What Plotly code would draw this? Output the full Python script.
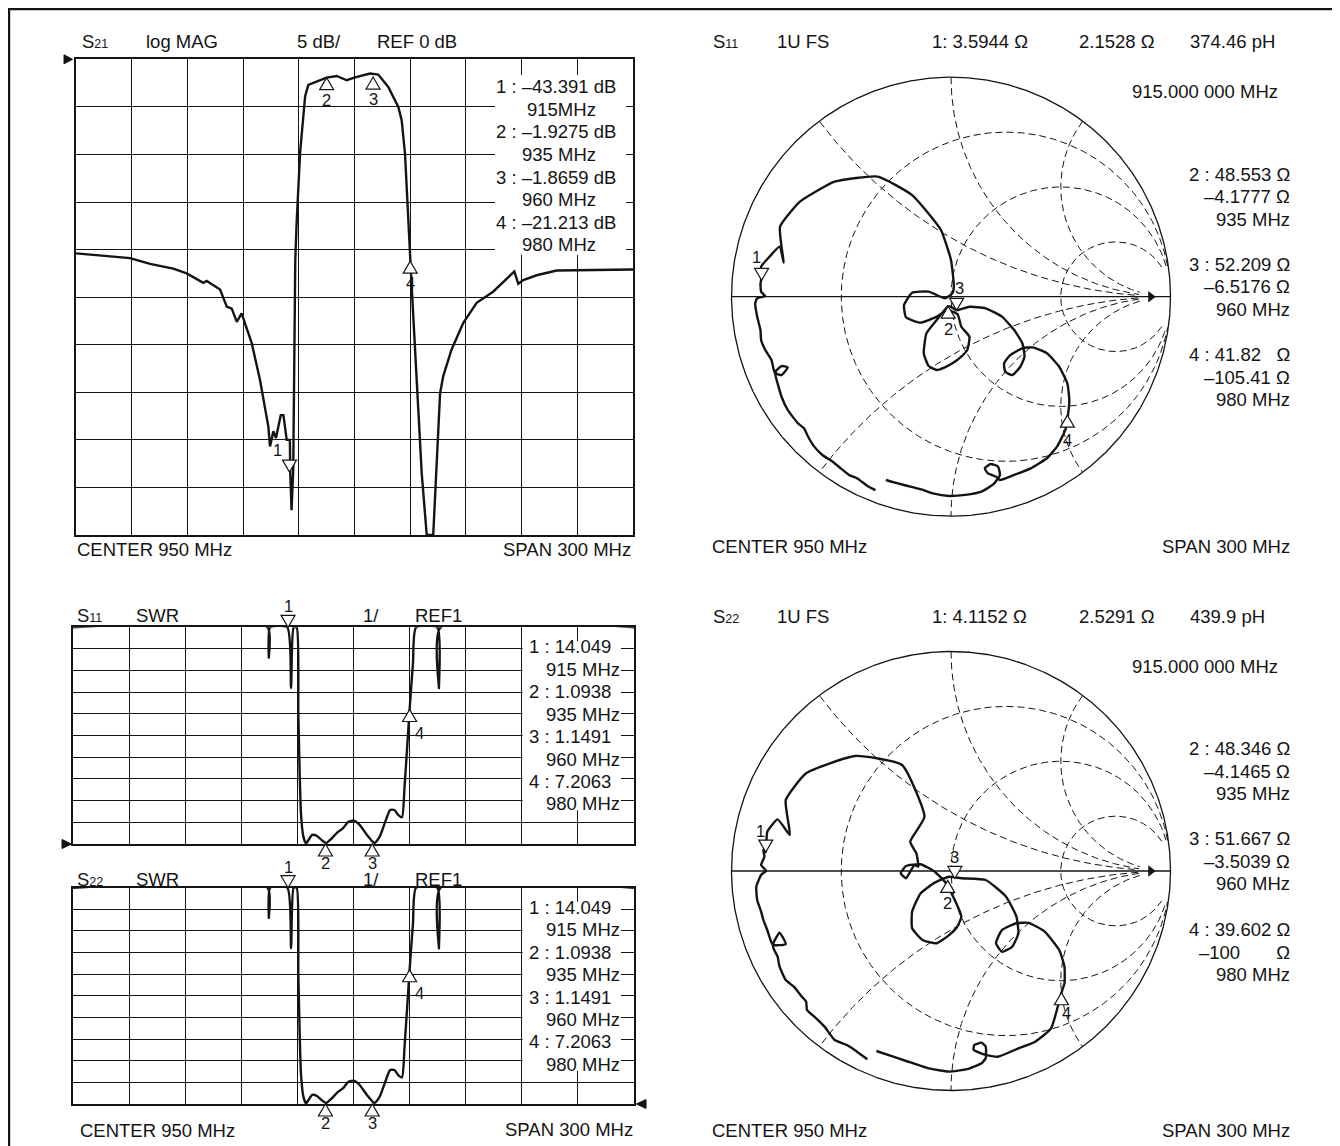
import numpy as np
import plotly.graph_objects as go

# Page coordinates below are measured on the 1340x1146 screenshot; the page body
# keeps an 8 px margin, so the figure itself is 8 px smaller and shifted back.
PAGE_W, PAGE_H, BODY = 1340, 1146, 8
W, H = PAGE_W - BODY, PAGE_H - BODY
FONT = "Liberation Sans, Arial, Helvetica, sans-serif"
INK = "#141414"
TXT = 18.5

# ---------------------------------------------------------------- data
MARKER_FREQ_MHZ = [915, 935, 960, 980]

# S21 log magnitude (MHz, dB)
S21_FREQ_MHZ = [
    800, 812.9, 829.1, 839.9, 852.4, 859.6, 868.6, 870.4,
    877.6, 881.2, 883.9, 886.6, 889.2, 894.6, 899.1, 903.6,
    904.5, 906.3, 907.7, 909.0, 910.3, 911.7, 913.5, 915.2,
    915.4, 916.1, 917.0, 918.1, 918.9, 920.7, 923.4, 925.1,
    929.6, 935.0, 940.4, 945.8, 950.3, 958.4, 962.8, 968.2,
    973.6, 975.4, 977.2, 978.4, 979.9, 980.8, 986.2, 988.9,
    992.4, 996.1, 997.8, 1002.3, 1008.6, 1015.8, 1024.8, 1034.7,
    1036.1, 1038.2, 1040.9, 1048.1, 1058.9, 1100,
]
S21_DB = [
    -20.4, -20.6, -20.9, -21.5, -22.0, -22.5, -23.5, -23.3,
    -24.2, -26.0, -26.2, -27.6, -26.7, -29.8, -33.7, -38.6,
    -40.7, -39.1, -39.8, -38.6, -37.4, -37.4, -40.0, -40.0,
    -43.4, -47.4, -43.2, -21.1, -16.9, -9.8, -3.9, -2.7,
    -2.35, -1.93, -1.75, -2.2, -1.9, -1.5, -1.6, -2.9,
    -5.0, -6.4, -9.9, -15.1, -21.2, -23.9, -43.5, -50.0,
    -50.0, -35.1, -33.3, -30.5, -27.7, -25.6, -24.4, -22.5,
    -22.3, -23.6, -23.2, -22.7, -22.2, -22.1,
]
S21_MARKER_DB = [-43.391, -1.9275, -1.8659, -21.213]

# SWR (same sweep shown for S11 and S22), clipped by the display at 11
SWR_FREQ_MHZ = [
    800, 904.0, 904.7, 905.4, 914.6, 916.6, 918.0, 919.6,
    920.5, 921.9, 923.2, 924.6, 925.9, 927.9, 930.5, 933.0,
    935.4, 938.4, 941.4, 944.3, 947.3, 950.3, 953.3, 957.2,
    961.2, 964.0, 967.0, 969.6, 971.9, 973.9, 975.9, 977.3,
    980.0, 981.8, 983.5, 994.8, 995.7, 996.6, 1100,
]
SWR_VALUES = [
    11, 11, 9.6, 11, 11, 8.2, 11, 11,
    7.0, 2.42, 1.34, 1.03, 1.18, 1.42, 1.37, 1.18,
    1.05, 1.26, 1.54, 1.72, 2.03, 2.08, 1.88, 1.42,
    1.05, 1.34, 2.03, 2.57, 2.57, 2.34, 2.23, 3.64,
    7.2, 9.34, 11, 11, 8.2, 11, 11,
]
SWR_MARKERS = [14.049, 1.0938, 1.1491, 7.2063]

# reflection coefficient traces
S11_GAMMA_RE = [
    -0.344, -0.381, -0.428, -0.465, -0.502, -0.539, -0.586, -0.623,
    -0.651, -0.669, -0.697, -0.744, -0.772, -0.790, -0.800, -0.800,
    -0.772, -0.744, -0.772, -0.803, -0.818, -0.846, -0.865, -0.868,
    -0.883, -0.892, -0.883, -0.846, -0.865, -0.868, -0.865, -0.865,
    -0.827, -0.781, -0.762, -0.779, -0.688, -0.530, -0.334, -0.177,
    -0.046, 0.000, 0.013, 0.006, -0.028, -0.102, -0.177, -0.214,
    -0.205, -0.139, -0.065, -0.019, 0.030, 0.047, 0.084, 0.074,
    0.047, 0.010, -0.028, -0.065, -0.102, -0.124, -0.112, -0.065,
    -0.013, 0.000, 0.026, 0.084, 0.158, 0.232, 0.288, 0.325,
    0.335, 0.316, 0.279, 0.247, 0.242, 0.270, 0.325, 0.372,
    0.437, 0.493, 0.530, 0.539, 0.533, 0.521, 0.483, 0.437,
    0.363, 0.288, 0.223, 0.205, 0.168, 0.154, 0.180, 0.214,
    0.223, 0.195, 0.139, 0.065, -0.009, -0.083, -0.139, -0.214,
    -0.270, -0.297,
]
S11_GAMMA_IM = [
    -0.881, -0.862, -0.827, -0.812, -0.782, -0.752, -0.721, -0.683,
    -0.638, -0.600, -0.577, -0.516, -0.456, -0.395, -0.357, -0.342,
    -0.316, -0.322, -0.357, -0.346, -0.288, -0.243, -0.197, -0.152,
    -0.091, -0.030, -0.007, 0.003, 0.023, 0.060, 0.075, 0.137,
    0.182, 0.228, 0.155, 0.319, 0.433, 0.524, 0.547, 0.463,
    0.304, 0.167, 0.046, 0.015, -0.007, 0.023, 0.018, -0.038,
    -0.094, -0.118, -0.091, -0.061, -0.080, -0.137, -0.182, -0.243,
    -0.273, -0.301, -0.322, -0.334, -0.316, -0.258, -0.167, -0.106,
    -0.043, -0.046, -0.062, -0.046, -0.053, -0.091, -0.152, -0.212,
    -0.273, -0.319, -0.357, -0.342, -0.303, -0.266, -0.235, -0.231,
    -0.258, -0.319, -0.395, -0.471, -0.539, -0.607, -0.683, -0.736,
    -0.782, -0.812, -0.835, -0.820, -0.805, -0.782, -0.762, -0.774,
    -0.812, -0.853, -0.888, -0.903, -0.908, -0.896, -0.877, -0.858,
    -0.843, -0.835,
]
S11_MARKER_R = [3.5944, 48.553, 52.209, 41.82]
S11_MARKER_X = [2.1528, -4.1777, -6.5176, -105.41]

S22_GAMMA_RE = [
    -0.381, -0.428, -0.474, -0.530, -0.576, -0.614, -0.656, -0.660,
    -0.679, -0.716, -0.753, -0.781, -0.790, -0.809, -0.809, -0.781,
    -0.753, -0.812, -0.837, -0.855, -0.865, -0.883, -0.887, -0.865,
    -0.842, -0.865, -0.850, -0.855, -0.844, -0.837, -0.790, -0.734,
    -0.753, -0.660, -0.437, -0.223, -0.121, -0.186, -0.158, -0.149,
    -0.167, -0.205, -0.229, -0.205, -0.139, -0.074, -0.028, 0.010,
    0.047, 0.028, -0.009, -0.065, -0.130, -0.177, -0.177, -0.139,
    -0.074, -0.009, 0.047, 0.158, 0.251, 0.298, 0.307, 0.279,
    0.232, 0.205, 0.232, 0.298, 0.354, 0.428, 0.493, 0.517,
    0.517, 0.503, 0.456, 0.381, 0.307, 0.214, 0.158, 0.103,
    0.106, 0.139, 0.158, 0.158, 0.139, 0.074, -0.009, -0.102,
    -0.195, -0.270, -0.340,
]
S22_GAMMA_IM = [
    -0.858, -0.823, -0.793, -0.770, -0.709, -0.671, -0.633, -0.595,
    -0.573, -0.527, -0.497, -0.436, -0.390, -0.352, -0.329, -0.281,
    -0.333, -0.336, -0.269, -0.223, -0.185, -0.132, -0.072, -0.018,
    0.001, 0.027, 0.065, 0.096, 0.086, 0.179, 0.235, 0.164,
    0.323, 0.445, 0.524, 0.483, 0.247, 0.133, 0.081, 0.020,
    0.027, -0.033, -0.011, 0.023, 0.031, -0.003, -0.049, -0.117,
    -0.208, -0.254, -0.292, -0.329, -0.314, -0.261, -0.185, -0.102,
    -0.053, -0.026, -0.033, -0.041, -0.117, -0.208, -0.284, -0.345,
    -0.368, -0.329, -0.269, -0.238, -0.236, -0.277, -0.360, -0.436,
    -0.512, -0.555, -0.717, -0.779, -0.808, -0.846, -0.838, -0.815,
    -0.793, -0.782, -0.800, -0.853, -0.876, -0.903, -0.914, -0.899,
    -0.869, -0.843, -0.820,
]
S22_MARKER_R = [4.1152, 48.346, 51.667, 39.602]
S22_MARKER_X = [2.5291, -4.1465, -3.5039, -100.0]

SMITH_R_CIRCLES = [1 / 3, 1, 3]
SMITH_X_ARCS = [0.5, 1, 2]

S21_READOUT = ["1 : –43.391 dB", "915MHz", "2 : –1.9275 dB", "935 MHz",
               "3 : –1.8659 dB", "960 MHz", "4 : –21.213 dB", "980 MHz"]
SWR_READOUT = ["1 : 14.049", "915 MHz", "2 : 1.0938", "935 MHz",
               "3 : 1.1491", "960 MHz", "4 : 7.2063", "980 MHz"]
S11_READOUT = ["2 : 48.553 Ω", "–4.1777 Ω", "935 MHz",
               "3 : 52.209 Ω", "–6.5176 Ω", "960 MHz",
               "4 : 41.82\u00a0\u00a0\u00a0Ω", "–105.41 Ω", "980 MHz"]
S22_READOUT = ["2 : 48.346 Ω", "–4.1465 Ω", "935 MHz",
               "3 : 51.667 Ω", "–3.5039 Ω", "960 MHz",
               "4 : 39.602 Ω", "–100\u00a0\u00a0\u00a0\u00a0\u00a0\u00a0\u00a0Ω", "980 MHz"]


# ---------------------------------------------------------------- helpers
def fx(x):
    """Page pixel x -> paper fraction."""
    return (x - BODY) / W


def fy(y):
    """Page pixel y -> paper fraction."""
    return 1 - (y - BODY) / H


def sub(main, idx):
    return f'{main}<span style="font-size:12.5px">{idx}</span>'


def gamma(r_ohm, x_ohm, z0=50.0):
    z = (np.asarray(r_ohm) + 1j * np.asarray(x_ohm)) / z0
    g = (z - 1) / (z + 1)
    return g.real, g.imag


fig = go.Figure()
annotations, shapes = [], []
layout = dict(
    width=W, height=H, margin=dict(l=0, r=0, t=0, b=0, pad=0),
    paper_bgcolor="white", plot_bgcolor="white", showlegend=False,
    font=dict(family=FONT, size=TXT, color=INK),
)

GRID = dict(showgrid=True, gridcolor=INK, gridwidth=1.3, showline=True,
            linecolor=INK, linewidth=1.6, mirror=True, zeroline=False,
            showticklabels=False, ticks="", fixedrange=True)


def text(s, x, y, anchor="left", size=TXT):
    annotations.append(dict(text=s, x=fx(x), y=fy(y), xref="paper",
                            yref="paper", xanchor=anchor, yanchor="middle",
                            showarrow=False, font=dict(size=size)))


def box(x0, y0, x1, y1):
    shapes.append(dict(type="rect", xref="paper", yref="paper",
                       x0=fx(x0), x1=fx(x1), y0=fy(y1), y1=fy(y0),
                       fillcolor="white", line=dict(width=0), layer="above"))


def pointer(pts):
    path = "M " + " L ".join(f"{fx(x)} {fy(y)}" for x, y in pts) + " Z"
    shapes.append(dict(type="path", xref="paper", yref="paper", path=path,
                       fillcolor=INK, line=dict(color=INK, width=1)))


def rect_axes(n, x0, y0, x1, y1, xr, yr, dy):
    s = "" if n == 1 else str(n)
    layout[f"xaxis{s}"] = dict(domain=[fx(x0), fx(x1)], range=xr, tick0=xr[0],
                               dtick=(xr[1] - xr[0]) / 10, anchor=f"y{s}", **GRID)
    layout[f"yaxis{s}"] = dict(domain=[fy(y1), fy(y0)], range=yr,
                               tick0=yr[0], dtick=dy, anchor=f"x{s}", **GRID)


def smith_axes(n, cx, cy, rad):
    half = 1.1
    layout[f"xaxis{n}"] = dict(domain=[fx(cx - half * rad), fx(cx + half * rad)],
                               range=[-half, half], visible=False,
                               anchor=f"y{n}", fixedrange=True)
    layout[f"yaxis{n}"] = dict(domain=[fy(cy + half * rad), fy(cy - half * rad)],
                               range=[-half, half], visible=False,
                               anchor=f"x{n}", fixedrange=True)


def tri(xref, yref, x, y, down):
    path = "M0,0 L-7,12 L7,12 Z" if down else "M0,0 L-7,-12 L7,-12 Z"
    shapes.append(dict(type="path", xref=xref, yref=yref, xsizemode="pixel",
                       ysizemode="pixel", xanchor=x, yanchor=y, path=path,
                       fillcolor="white", line=dict(color=INK, width=1.2),
                       layer="above"))


def mlabel(xref, yref, x, y, s, dx, dy):
    annotations.append(dict(text=s, x=x, y=y, xref=xref, yref=yref,
                            xshift=dx, yshift=dy, showarrow=False,
                            font=dict(size=16.5), xanchor="center",
                            yanchor="middle"))


def line_trace(x, y, n, width=2.4, shape="linear", smoothing=0.6):
    s = "" if n == 1 else str(n)
    fig.add_trace(go.Scatter(x=x, y=y, xaxis=f"x{s}", yaxis=f"y{s}",
                             mode="lines", hoverinfo="skip",
                             line=dict(color=INK, width=width, shape=shape,
                                       smoothing=smoothing)))


def smith_grid(n):
    t = np.linspace(0, 2 * np.pi, 1441)
    gx_all, gy_all = [], []

    def keep(gx, gy):
        bad = (gx ** 2 + gy ** 2 > 1.0005) | ((gx - 1) ** 2 + gy ** 2 < 0.14 ** 2)
        gx_all.extend([None if b else float(v) for v, b in zip(gx, bad)] + [None])
        gy_all.extend([None if b else float(v) for v, b in zip(gy, bad)] + [None])

    for r in SMITH_R_CIRCLES:
        c, a = r / (1 + r), 1 / (1 + r)
        keep(c + a * np.cos(t), a * np.sin(t))
    for xv in SMITH_X_ARCS:
        a = 1 / xv
        for sgn in (1, -1):
            keep(1 + a * np.cos(t), sgn * a + a * np.sin(t))
    ax = dict(xaxis=f"x{n}", yaxis=f"y{n}", hoverinfo="skip")
    fig.add_trace(go.Scatter(x=gx_all, y=gy_all, mode="lines", connectgaps=False,
                             line=dict(color=INK, width=1, dash="7px,4px"), **ax))
    fig.add_trace(go.Scatter(x=np.cos(t), y=np.sin(t), mode="lines",
                             line=dict(color=INK, width=1.3), **ax))
    fig.add_trace(go.Scatter(x=[-1, 1], y=[0, 0], mode="lines",
                             line=dict(color=INK, width=1.3), **ax))
    fig.add_trace(go.Scatter(x=[0.91], y=[0], mode="markers",
                             marker=dict(symbol="triangle-right", size=10, color=INK), **ax))


# ---------------------------------------------------------------- S21 log MAG
rect_axes(1, 76, 59.3, 633, 535, [800, 1100], [-50, 0], 5)
line_trace(S21_FREQ_MHZ, S21_DB, 1)
for i, (f, v) in enumerate(zip(MARKER_FREQ_MHZ, S21_MARKER_DB)):
    down = i == 0
    tri("x", "y", f, v, down)
    if down:
        mlabel("x", "y", f, v, "1", -12, 22)
    else:
        mlabel("x", "y", f, v, str(i + 1), 0, -22)
box(495, 75, 626, 255)
for i, s in enumerate(S21_READOUT):
    text(s, 618 if i % 2 == 0 else 598, 86.7 + i * 22.6, "right")
text(sub("S", "21"), 80, 41.7)
text("log MAG", 144, 41.7)
text("5 dB/", 295, 41.7)
text("REF 0 dB", 375, 41.7)
text("CENTER 950 MHz", 75, 549)
text("SPAN 300 MHz", 633, 549, "right")
pointer([(64, 54.8), (72.5, 59.3), (64, 63.8)])

# ---------------------------------------------------------------- SWR panels
swr_display = np.minimum(SWR_VALUES, 11)
marker_disp = np.minimum(SWR_MARKERS, 11)
panels = ((627.3, 844, "11", 615), (887.7, 1104, "22", 879))
for n, (top, bot, name, title_y) in zip((2, 3), panels):
    rect_axes(n, 73, top, 634, bot, [800, 1100], [1, 11], 1)
    line_trace(SWR_FREQ_MHZ, swr_display, n, shape="spline")
    xr, yr = f"x{n}", f"y{n} domain"
    for i, (f, v) in enumerate(zip(MARKER_FREQ_MHZ, marker_disp)):
        frac = (v - 1) / 10
        if i == 0:
            tri(xr, yr, f, frac, True)
            mlabel(xr, yr, f, frac, "1", 0, 21)
        elif i == 3:
            tri(xr, yr, f, frac, False)
            mlabel(xr, yr, f, frac, "4", 10, -23)
        else:
            tri(xr, yr, f, 0, False)
            mlabel(xr, yr, f, 0, str(i + 1), 0, -19)
    box(522.5, top + 14, 621, top + 183)
    for i, s in enumerate(SWR_READOUT):
        text(s, 613 if i % 2 == 0 else 622, top + 19.5 + i * 22.45, "right")
    text(sub("S", name), 75, title_y)
    text("SWR", 134, title_y)
    text("1/", 361, title_y)
    text("REF1", 413, title_y)

pointer([(62, 839.5), (71.5, 844), (62, 848.5)])
pointer([(646, 1099.5), (636.5, 1104), (646, 1108.5)])
text("CENTER 950 MHz", 78, 1130)
text("SPAN 300 MHz", 635, 1129, "right")

# ---------------------------------------------------------------- Smith charts
R_SMITH = 219.5
smith = [
    (4, 296.7, "11", S11_GAMMA_RE, S11_GAMMA_IM, S11_MARKER_R, S11_MARKER_X,
     ("1U FS", "1: 3.5944 Ω", "2.1528 Ω", "374.46 pH"), S11_READOUT,
     [(-5, 23), (0, -23), (3, 22), (0, -25)], 546.7),
    (5, 871.0, "22", S22_GAMMA_RE, S22_GAMMA_IM, S22_MARKER_R, S22_MARKER_X,
     ("1U FS", "1: 4.1152 Ω", "2.5291 Ω", "439.9 pH"), S22_READOUT,
     [(-5, 21), (0, -23), (0, 21), (5, -20)], 1130),
]
for n, cy, name, gre, gim, mr, mx, head, readout, offs, foot in smith:
    smith_axes(n, 951, cy, R_SMITH)
    smith_grid(n)
    line_trace(gre, gim, n, shape="spline", smoothing=0.45)
    mre, mim = gamma(mr, mx)
    xr, yr = f"x{n}", f"y{n}"
    for i in range(4):
        down = i in (0, 2)
        tri(xr, yr, float(mre[i]), float(mim[i]), down)
        mlabel(xr, yr, float(mre[i]), float(mim[i]), str(i + 1), *offs[i])
    hy = cy - 255
    text(sub("S", name), 711, hy)
    text(head[0], 775, hy)
    text(head[1], 930, hy)
    text(head[2], 1077, hy)
    text(head[3], 1188, hy)
    text("915.000 000 MHz", 1280, cy - 205, "right")
    ys = [-122.5, -100, -77.5, -32.5, -10, 12.5, 58.3, 81, 103]
    for s, dy in zip(readout, ys):
        text(s, 1292, cy + dy, "right")
    text("CENTER 950 MHz", 710, foot)
    text("SPAN 300 MHz", 1292, foot, "right")

# outer frame
shapes.append(dict(type="rect", xref="paper", yref="paper", x0=fx(8.7),
                   x1=fx(1337.3), y0=fy(1150), y1=fy(8.7),
                   line=dict(color=INK, width=3), fillcolor="rgba(0,0,0,0)"))

layout["annotations"] = annotations
layout["shapes"] = shapes
fig.update_layout(**layout)
fig.write_html("out.html")
